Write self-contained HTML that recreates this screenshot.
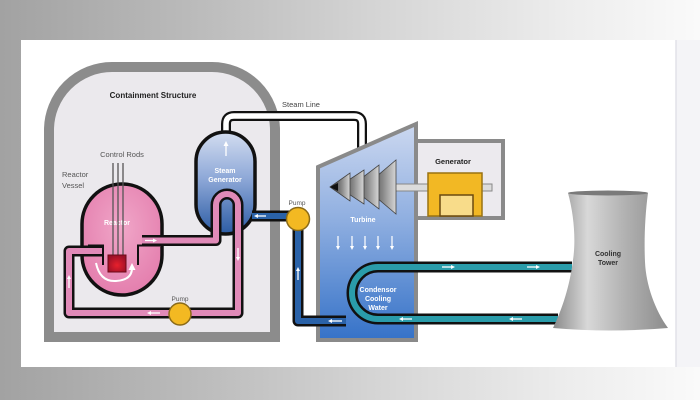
<!DOCTYPE html>
<html><head><meta charset="utf-8"><style>
html,body{margin:0;padding:0;width:700px;height:400px;overflow:hidden;}
body{background:linear-gradient(to right,#a2a2a2 0%,#bdbdbd 30%,#d6d6d6 55%,#ececec 80%,#fafafa 100%);}
svg{display:block;}
text{font-family:"Liberation Sans",sans-serif;}
</style></head><body>
<svg width="700" height="400" viewBox="0 0 700 400" xmlns="http://www.w3.org/2000/svg">
<defs>
<linearGradient id="sg" x1="0" y1="0" x2="0" y2="1">
<stop offset="0" stop-color="#d3ddf0"/><stop offset="0.45" stop-color="#8fa9d8"/><stop offset="1" stop-color="#2c5ca4"/>
</linearGradient>
<linearGradient id="tb" x1="0" y1="0" x2="0" y2="1">
<stop offset="0" stop-color="#ccd8f0"/><stop offset="0.45" stop-color="#8eaee0"/><stop offset="1" stop-color="#3572c8"/>
</linearGradient>
<radialGradient id="rx" cx="0.5" cy="0.4" r="0.6">
<stop offset="0" stop-color="#f0a6c8"/><stop offset="1" stop-color="#e47fae"/>
</radialGradient>
<linearGradient id="ct" x1="0" y1="0" x2="1" y2="0">
<stop offset="0" stop-color="#8a8a8a"/><stop offset="0.3" stop-color="#d8d8d8"/><stop offset="0.6" stop-color="#b4b4b4"/><stop offset="1" stop-color="#8c8c8c"/>
</linearGradient>
<linearGradient id="cone" x1="0" y1="0" x2="1" y2="0">
<stop offset="0" stop-color="#2a2a2a"/><stop offset="0.6" stop-color="#8a8a8a"/><stop offset="1" stop-color="#d6d6d6"/>
</linearGradient>
<radialGradient id="core" cx="0.5" cy="0.6" r="0.6">
<stop offset="0" stop-color="#e8202c"/><stop offset="1" stop-color="#9a1028"/>
</radialGradient>
</defs>

<!-- panel -->
<rect x="21" y="40" width="655" height="327" fill="#ffffff"/>
<rect x="676" y="40" width="24" height="327" fill="#f4f4f7"/>
<line x1="676" y1="40" x2="676" y2="367" stroke="#e2e2e8" stroke-width="1.5"/>

<!-- containment -->
<path d="M49,337 L49,130 A63,63 0 0 1 112,67 L212,67 A63,63 0 0 1 275,130 L275,337 Z" fill="#ebe9ed" stroke="#8c8c8c" stroke-width="10"/>
<text x="153" y="98" font-size="8" font-weight="bold" text-anchor="middle" fill="#222">Containment Structure</text>

<!-- steam line -->
<path d="M226,140 V124 Q226,116 234,116 H354 Q362,116 362,124 V165" fill="none" stroke="#111" stroke-width="10" stroke-linejoin="round"/>
<path d="M226,140 V124 Q226,116 234,116 H354 Q362,116 362,124 V165" fill="none" stroke="#ffffff" stroke-width="5.5" stroke-linejoin="round"/>
<text x="301" y="107" font-size="7.5" text-anchor="middle" fill="#444">Steam Line</text>

<!-- steam generator -->
<rect x="196" y="132" width="59" height="102" rx="29.5" ry="29.5" fill="url(#sg)" stroke="#111" stroke-width="3.5"/>
<line x1="226" y1="156" x2="226" y2="143" stroke="#fff" stroke-width="1.3"/>
<polygon points="223.5,146 226,141 228.5,146" fill="#fff"/>
<text x="225" y="173" font-size="7" font-weight="bold" text-anchor="middle" fill="#fff">Steam</text>
<text x="225" y="182" font-size="7" font-weight="bold" text-anchor="middle" fill="#fff">Generator</text>

<!-- reactor vessel -->
<rect x="82" y="184" width="80" height="111" rx="40" ry="40" fill="url(#rx)" stroke="#111" stroke-width="3.5"/>
<text x="117" y="225" font-size="7" font-weight="bold" text-anchor="middle" fill="#fff">Reactor</text>
<!-- control rods -->
<g stroke="#555" stroke-width="1.3">
<line x1="113" y1="163" x2="113" y2="256"/><line x1="118" y1="163" x2="118" y2="256"/><line x1="123" y1="163" x2="123" y2="256"/>
</g>
<text x="122" y="157" font-size="7.5" text-anchor="middle" fill="#555">Control Rods</text>
<text x="62" y="177" font-size="7.5" fill="#555">Reactor</text>
<text x="62" y="188" font-size="7.5" fill="#555">Vessel</text>
<!-- core -->
<rect x="108" y="255" width="18" height="17" fill="url(#core)" stroke="#6a0a18" stroke-width="1"/>
<!-- internals -->
<path d="M88,245.5 H103 V265" fill="none" stroke="#111" stroke-width="2"/>
<path d="M160,245.5 H138 V265" fill="none" stroke="#111" stroke-width="2"/>
<path d="M96,263 Q100,282 116,281 Q132,280 132,268" fill="none" stroke="#fff" stroke-width="2"/>
<polygon points="128.5,270 132,263 135.5,270" fill="#fff"/>

<!-- primary loop -->
<path d="M142,240.5 H216 V205 A11,11 0 0 1 238,205 V313 H69 V251 H102" fill="none" stroke="#111" stroke-width="11" stroke-linejoin="round"/>
<path d="M142,240.5 H216 V205 A11,11 0 0 1 238,205 V313 H69 V251 H102" fill="none" stroke="#e08ab8" stroke-width="6" stroke-linejoin="round"/>
<!-- primary arrows -->
<g stroke="#fff" stroke-width="1.3" fill="#fff">
<line x1="145" y1="240.5" x2="154" y2="240.5"/><polygon points="153,238.5 157,240.5 153,242.5" stroke="none"/>
<line x1="238" y1="248" x2="238" y2="258"/><polygon points="236,257 238,261 240,257" stroke="none"/>
<line x1="160" y1="313" x2="150" y2="313"/><polygon points="151,311 147,313 151,315" stroke="none"/>
<line x1="69" y1="288" x2="69" y2="278"/><polygon points="67,279 69,275 71,279" stroke="none"/>
</g>
<!-- primary pump -->
<circle cx="180" cy="314" r="11" fill="#f3b922" stroke="#8a6a18" stroke-width="1.5"/>
<text x="180" y="301" font-size="6.5" text-anchor="middle" fill="#555">Pump</text>

<!-- turbine building -->
<polygon points="318,167 416,124 416,340 318,340" fill="url(#tb)" stroke="#8a8a8a" stroke-width="4" stroke-linejoin="miter"/>
<!-- generator box -->
<rect x="416" y="141" width="87" height="77" fill="#eceaee" stroke="#8a8a8a" stroke-width="4"/>
<text x="453" y="164" font-size="7.5" font-weight="bold" text-anchor="middle" fill="#222">Generator</text>
<!-- shaft -->
<rect x="390" y="184" width="102" height="7" fill="#dcdcdc" stroke="#888" stroke-width="1"/>
<!-- generator -->
<rect x="428" y="173" width="54" height="43" fill="#f2b824" stroke="#9a7210" stroke-width="1.5"/>
<rect x="440" y="195" width="33" height="21" fill="#f8dc8a" stroke="#6a4a10" stroke-width="1.5"/>
<!-- cones -->
<g stroke="#444" stroke-width="0.8">
<polygon points="364,187 396,160 396,214" fill="url(#cone)"/>
<polygon points="350,187 379,165 379,209" fill="url(#cone)"/>
<polygon points="338,187 364,170 364,204" fill="url(#cone)"/>
<polygon points="330,187 350,173 350,201" fill="url(#cone)"/>
</g>
<polygon points="330,187 338,183 338,191" fill="#111"/>
<text x="363" y="222" font-size="7" font-weight="bold" text-anchor="middle" fill="#fff">Turbine</text>
<g stroke="#fff" stroke-width="1.2" fill="#fff">
<line x1="338" y1="236" x2="338" y2="247"/><polygon points="336,246 338,250 340,246" stroke="none"/>
<line x1="352" y1="236" x2="352" y2="247"/><polygon points="350,246 352,250 354,246" stroke="none"/>
<line x1="365" y1="236" x2="365" y2="247"/><polygon points="363,246 365,250 367,246" stroke="none"/>
<line x1="378" y1="236" x2="378" y2="247"/><polygon points="376,246 378,250 380,246" stroke="none"/>
<line x1="392" y1="236" x2="392" y2="247"/><polygon points="390,246 392,250 394,246" stroke="none"/>
</g>

<!-- feedwater loop -->
<path d="M252,216 H298 V321 H346" fill="none" stroke="#111" stroke-width="11" stroke-linejoin="round"/>
<path d="M252,216 H298 V321 H346" fill="none" stroke="#2a62a8" stroke-width="6" stroke-linejoin="round"/>
<g stroke="#fff" stroke-width="1.3" fill="#fff">
<line x1="266" y1="216" x2="257" y2="216"/><polygon points="258,214 254,216 258,218" stroke="none"/>
<line x1="298" y1="280" x2="298" y2="270"/><polygon points="296,271 298,267 300,271" stroke="none"/>
<line x1="342" y1="321" x2="331" y2="321"/><polygon points="332,319 328,321 332,323" stroke="none"/>
</g>
<circle cx="298" cy="219" r="11.5" fill="#f3b922" stroke="#8a6a18" stroke-width="1.5"/>
<text x="297" y="205" font-size="6.5" text-anchor="middle" fill="#555">Pump</text>

<!-- condenser loop -->
<path d="M572,267 H378 A26,26 0 0 0 378,319 H558" fill="none" stroke="#111" stroke-width="11"/>
<path d="M572,267 H378 A26,26 0 0 0 378,319 H558" fill="none" stroke="#2a9caa" stroke-width="6"/>
<g stroke="#fff" stroke-width="1.3" fill="#fff">
<line x1="442" y1="267" x2="452" y2="267"/><polygon points="451,265 455,267 451,269" stroke="none"/>
<line x1="527" y1="267" x2="537" y2="267"/><polygon points="536,265 540,267 536,269" stroke="none"/>
<line x1="412" y1="319" x2="402" y2="319"/><polygon points="403,317 399,319 403,321" stroke="none"/>
<line x1="522" y1="319" x2="512" y2="319"/><polygon points="513,317 509,319 513,321" stroke="none"/>
</g>
<text x="378" y="292" font-size="7" font-weight="bold" text-anchor="middle" fill="#fff">Condensor</text>
<text x="378" y="301" font-size="7" font-weight="bold" text-anchor="middle" fill="#fff">Cooling</text>
<text x="378" y="310" font-size="7" font-weight="bold" text-anchor="middle" fill="#fff">Water</text>

<!-- cooling tower -->
<path d="M568,193 C574,215 576,240 573,260 C570,285 562,310 553,328 Q610,333 668,328 C655,310 646,285 645,262 C644,240 645,215 648,193 Z" fill="url(#ct)"/>
<ellipse cx="608" cy="193" rx="40" ry="2.5" fill="#7a7a7a"/>
<text x="608" y="256" font-size="7" font-weight="bold" text-anchor="middle" fill="#333">Cooling</text>
<text x="608" y="265" font-size="7" font-weight="bold" text-anchor="middle" fill="#333">Tower</text>
</svg>
</body></html>
